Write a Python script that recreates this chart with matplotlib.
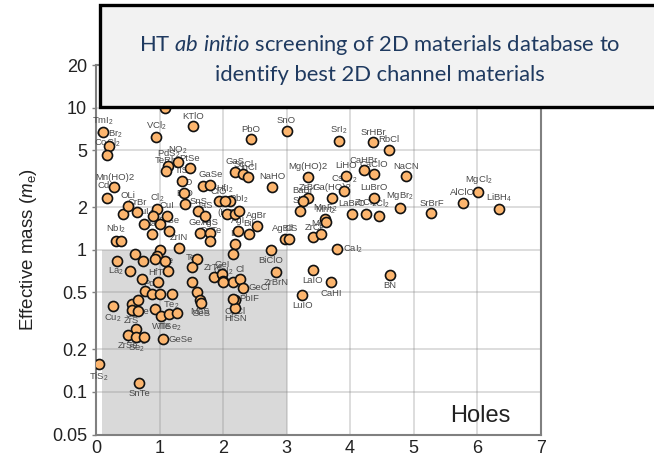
import matplotlib
matplotlib.use("Agg")
import matplotlib.pyplot as plt
from matplotlib.patches import Rectangle
import numpy as np

plt.rcParams['font.family'] = ['Liberation Sans', 'DejaVu Sans']
plt.rcParams['mathtext.fontset'] = 'custom'
plt.rcParams['mathtext.rm'] = 'Liberation Sans'
plt.rcParams['mathtext.it'] = 'Lato:italic'

# hole effective mass screening: x = energy-like descriptor, y = effective mass (m_e)
x_vals = [
    0.105, 0.21, 0.18, 0.945, 1.53, 1.09, 1.29, 1.14, 1.10, 1.48, 1.35, 1.69, 1.80, 2.19, 2.32, 2.40,
    0.29, 0.18, 0.43, 0.65, 0.51, 0.756, 0.877, 0.965, 0.89, 1.11, 1.155, 1.00, 1.40, 1.39, 1.61, 1.72,
    1.93, 2.11, 2.06, 2.19, 1.64, 1.80, 1.80, 2.19, 2.16, 0.315, 0.40, 1.30, 1.00, 0.955, 0.61, 0.33,
    0.745, 0.93, 1.09, 1.585, 1.51, 0.535, 1.14, 0.72, 0.98, 1.51, 1.85, 1.98, 2.00, 2.16, 0.77, 0.877,
    1.00, 1.19, 1.585, 0.27, 0.56, 0.666, 1.64, 2.19, 0.56, 0.666, 0.93, 1.03, 1.155, 1.27, 1.66, 2.19,
    0.63, 0.51, 0.63, 0.76, 1.06, 0.047, 0.68,
    2.44, 3.00, 3.82, 4.36, 2.77, 3.33, 3.94, 4.22, 4.38, 3.90, 3.71, 3.34, 3.26, 3.21, 2.03, 2.25,
    4.03, 4.25, 4.37, 3.61, 2.53, 2.41, 2.23, 2.98, 3.04, 3.42, 3.54, 3.62, 3.80, 2.75, 2.83, 3.41,
    3.70, 3.25, 2.27, 2.32, 2.16, 2.00, 4.61, 4.88, 4.79, 4.46, 5.28, 5.77, 6.02, 6.35, 4.63,
]
y_vals = [
    6.7, 5.4, 4.67, 6.18, 7.4, 10.0, 4.17, 3.9, 3.6, 3.76, 3.06, 2.82, 2.87, 3.55, 3.4, 3.23,
    2.75, 2.33, 1.78, 1.83, 2.04, 1.52, 1.29, 1.93, 1.73, 1.73, 1.36, 1.52, 2.1, 2.53, 1.86, 1.73,
    2.19, 2.19, 1.78, 1.78, 1.32, 1.32, 1.16, 1.10, 0.93, 1.16, 1.16, 1.03, 1.0, 0.91, 0.93, 0.84,
    0.84, 0.86, 0.84, 0.86, 0.75, 0.71, 0.71, 0.62, 0.59, 0.59, 0.64, 0.67, 0.60, 0.59, 0.51, 0.49,
    0.49, 0.49, 0.50, 0.40, 0.415, 0.44, 0.44, 0.44, 0.376, 0.372, 0.38, 0.343, 0.35, 0.36, 0.42, 0.39,
    0.276, 0.25, 0.244, 0.244, 0.235, 0.157, 0.116,
    6.0, 6.9, 5.8, 5.7, 2.78, 3.27, 3.32, 3.64, 3.41, 2.6, 2.33, 2.33, 2.21, 1.88, 2.21, 1.88,
    1.80, 1.78, 2.33, 1.64, 1.48, 1.29, 1.36, 1.19, 1.2, 1.22, 1.29, 1.58, 1.01, 1.0, 0.70, 0.72,
    0.59, 0.48, 0.62, 0.54, 0.45, 0.59, 5.04, 3.28, 1.97, 1.73, 1.81, 2.15, 2.57, 1.93, 0.667,
]
# material names (empty where the name is not printed) and label side (a = above, b = below, r = right, l = left)
names = [
    'TmI$_2$', 'CoBr$_2$', 'CoCl$_2$', 'VCl$_2$', 'KTlO', '', 'NO$_2$', 'PdS$_2$', 'TeRh', 'PtSe', 'TiS', '', 'GaSe', 'GaS', 'ScCl', 'InCl',
    'Mn(HO)2', 'CdI$_2$', '', 'CrBr', 'OLi', 'AuI$_4$', 'NaI', 'Cl$_2$', '', 'CuI', 'SrSe', '', 'BrO', 'NiO', 'SnS', 'TaS',
    'ClO', '(HO)2', '', '', 'GeTe', 'AgS', 'CuTe', 'InI', '', 'NbI$_2$', '', 'ZrIN', '', '', '', '',
    '', '', '', '', 'TeI', 'La$_2$', 'Te', '', 'HfTe', '', 'ZrTe', 'GeI', '', '', '', 'PdS',
    '', 'Te$_2$', '', 'Cu$_2$', 'Sc', 'TeSe', 'MoS', 'CaCl', 'ZrS', '', '', 'WTe', 'TiSe$_2$', '', 'GeS', 'HfSN',
    'ZrS$_2$', 'ZrSe', 'Se$_2$', '', 'GeSe', 'TiS$_2$', 'SnTe',
    'PbO', 'SnO', 'SrI$_2$', 'SrHBr', 'NaHO', 'Mg(HO)2', 'LiHO', 'CaHBr', 'CaClO', 'CsBr$_2$', 'Ga(HO)2', 'ZrBr', 'BaBr', 'SbI', 'HfI$_2$', 'PbI$_2$',
    'LaBrO', 'ZrCl$_2$', 'LuBrO', 'MnF$_2$', 'AgBr', 'BiI', 'AgI', 'AgBiS', 'Cl', 'ZrCl', 'MgF', 'MnI$_2$', 'CaI$_2$', 'BiClO', 'ZrBrN', 'LaIO',
    'CaHI', 'LuIO', 'Cl', 'GeCl', 'PbIF', 'GeI$_2$', 'RbCl', 'NaCN', 'MgBr$_2$', 'YCl$_2$', 'SrBrF', 'AlClO', 'MgCl$_2$', 'LiBH$_4$', 'BN',
]
sides = [
    'a', 'a', 'a', 'a', 'a', 'a', 'a', 'a', 'a', 'a', 'a', 'a', 'a', 'a', 'a', 'a',
    'a', 'a', 'a', 'a', 'a', 'a', 'a', 'a', 'a', 'a', 'a', 'a', 'a', 'a', 'a', 'a',
    'a', 'b', 'a', 'a', 'a', 'a', 'a', 'a', 'a', 'a', 'a', 'a', 'a', 'a', 'a', 'a',
    'a', 'a', 'a', 'a', 'a', 'l', 'a', 'a', 'a', 'a', 'a', 'a', 'a', 'a', 'a', 'a',
    'a', 'b', 'a', 'b', 'b', 'b', 'b', 'b', 'b', 'b', 'b', 'b', 'b', 'b', 'b', 'b',
    'b', 'b', 'b', 'b', 'r', 'b', 'b',
    'a', 'a', 'a', 'a', 'a', 'a', 'a', 'a', 'a', 'a', 'a', 'a', 'a', 'a', 'a', 'a',
    'a', 'a', 'a', 'a', 'a', 'a', 'a', 'a', 'a', 'a', 'a', 'a', 'r', 'b', 'b', 'b',
    'b', 'b', 'a', 'r', 'r', 'a', 'a', 'a', 'a', 'a', 'a', 'a', 'a', 'a', 'b',
]

x_ticks = [0, 1, 2, 3, 4, 5, 6, 7]
y_ticks = [0.05, 0.1, 0.2, 0.5, 1, 2, 5, 10, 20]
y_ticklabels = ['0.05', '0.1', '0.2', '0.5', '1', '2', '5', '10', '20']

fig = plt.figure(figsize=(6.54, 4.69), dpi=100)
ax = fig.add_axes([96 / 654, 1 - 434.5 / 469, (540.7 - 96) / 654, (434.5 - 65) / 469])
ax.set_yscale('log')
ax.set_xlim(0, 7)
ax.set_ylim(0.05, 20)

# region of interest: low effective mass, small descriptor
ax.add_patch(Rectangle((0.1, 0.05), 2.9, 0.95, facecolor='#d9d9d9', edgecolor='none', zorder=0))
ax.grid(True, which='major', color='#8a8a8a', alpha=0.35, linewidth=1.2, zorder=1)
ax.set_axisbelow(True)

ax.set_xticks(x_ticks)
ax.set_xticklabels([str(t) for t in x_ticks])
ax.set_yticks(y_ticks)
ax.set_yticklabels(y_ticklabels)
ax.minorticks_off()
ax.tick_params(axis='both', labelsize=13, colors='#808080', labelcolor='#222222', length=3, width=1)
ax.tick_params(axis='x', length=0, pad=4)
for s in ax.spines.values():
    s.set_color('#808080')
    s.set_linewidth(1.5)

ax.scatter(x_vals, y_vals, s=52, facecolor='#fcb56e', edgecolor='#111111', linewidth=1.2, zorder=4)

for xv, yv, nm, sd in zip(x_vals, y_vals, names, sides):
    if not nm:
        continue
    if sd == 'a':
        off, ha, va = (0, 4), 'center', 'bottom'
    elif sd == 'b':
        off, ha, va = (0, -4.5), 'center', 'top'
    elif sd == 'r':
        off, ha, va = (4, 0), 'left', 'center'
    else:
        off, ha, va = (-4, 0), 'right', 'center'
    ax.annotate(nm, (xv, yv), xytext=off, textcoords='offset points', ha=ha, va=va,
                fontsize=6.8, color='#4a4a4a', zorder=3)

ax.text(6.05, 0.068, 'Holes', fontsize=17, color='#222222', ha='center', va='center')
ax.set_ylabel('Effective mass ($m_\\mathrm{e}$)', fontsize=13.5, color='#222222', labelpad=9)

# title panel across the top
fig.add_artist(Rectangle((100 / 654, 1 - 107 / 469), 0.9, 102 / 469, transform=fig.transFigure,
                         facecolor='#f2f2f2', edgecolor='#000000', linewidth=2.4, zorder=10, clip_on=False))
fig.text(380 / 654, 1 - 45 / 469, 'HT $\\mathit{ab\\ initio}$ screening of 2D materials database to',
         fontsize=15.8, family='Lato', color='#1f3a60', ha='center', va='center', zorder=11)
fig.text(380 / 654, 1 - 75 / 469, 'identify best 2D channel materials',
         fontsize=15.8, family='Lato', color='#1f3a60', ha='center', va='center', zorder=11)

fig.savefig('out.png', dpi=100)
